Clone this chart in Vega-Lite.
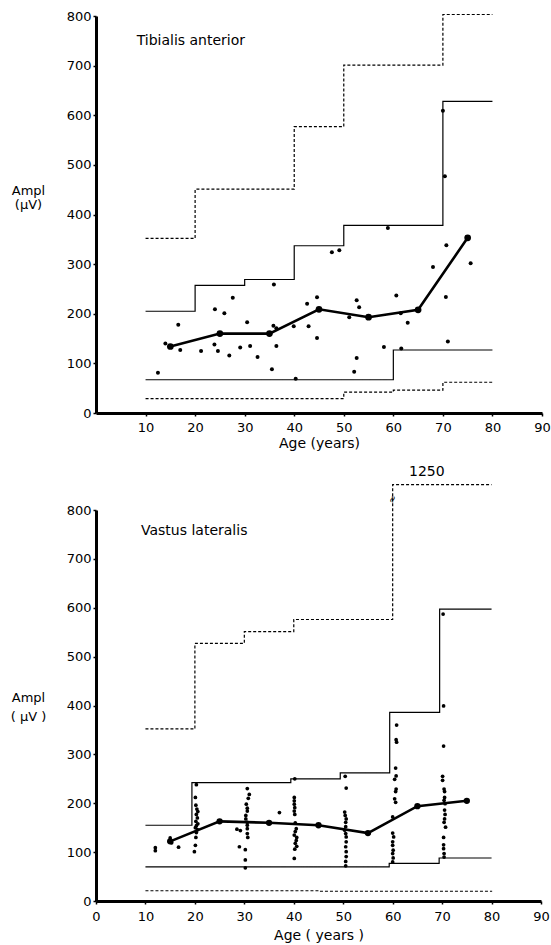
{
  "$schema": "https://vega.github.io/schema/vega-lite/v6.json",
  "padding": {"left": 10, "top": 10, "right": 2, "bottom": 2},
  "spacing": 15,
  "config": {
    "view": {"stroke": null},
    "font": "DejaVu Sans",
    "axis": {
      "grid": false,
      "domainColor": "black",
      "domainWidth": 3,
      "tickColor": "black",
      "tickSize": 3,
      "tickWidth": 1.5,
      "labelFont": "DejaVu Sans",
      "labelFontSize": 13,
      "labelColor": "black",
      "labelFlush": false,
      "labelOverlap": false,
      "titleFont": "DejaVu Sans",
      "titleFontSize": 14,
      "titleFontWeight": "normal",
      "titleColor": "black"
    },
    "point": {"filled": true, "color": "black", "opacity": 1},
    "line": {"color": "black"}
  },
  "datasets": {
    "ta_steps": [
      {"s": "uD", "d": "dashed", "x": 10, "y": 352}, {"s": "uD", "d": "dashed", "x": 20, "y": 451}, {"s": "uD", "d": "dashed", "x": 40, "y": 577}, {"s": "uD", "d": "dashed", "x": 50, "y": 701}, {"s": "uD", "d": "dashed", "x": 70, "y": 803}, {"s": "uD", "d": "dashed", "x": 80, "y": 803},
      {"s": "uS", "d": "solid", "x": 10, "y": 205}, {"s": "uS", "d": "solid", "x": 20, "y": 257}, {"s": "uS", "d": "solid", "x": 30, "y": 269}, {"s": "uS", "d": "solid", "x": 40, "y": 337}, {"s": "uS", "d": "solid", "x": 50, "y": 378}, {"s": "uS", "d": "solid", "x": 70, "y": 628}, {"s": "uS", "d": "solid", "x": 80, "y": 628},
      {"s": "lS", "d": "solid", "x": 10, "y": 67}, {"s": "lS", "d": "solid", "x": 60, "y": 127}, {"s": "lS", "d": "solid", "x": 80, "y": 127},
      {"s": "lD", "d": "dashed", "x": 10, "y": 29}, {"s": "lD", "d": "dashed", "x": 50, "y": 42}, {"s": "lD", "d": "dashed", "x": 60, "y": 46}, {"s": "lD", "d": "dashed", "x": 70, "y": 62}, {"s": "lD", "d": "dashed", "x": 80, "y": 62}
    ],
    "ta_mean": [
      {"x": 15, "y": 134}, {"x": 25, "y": 160}, {"x": 35, "y": 160}, {"x": 45, "y": 209}, {"x": 55, "y": 193}, {"x": 65, "y": 208}, {"x": 75, "y": 353}
    ],
    "ta_obs": [
      {"x": 12.5, "y": 81}, {"x": 14.0, "y": 140}, {"x": 16.6, "y": 178}, {"x": 17.0, "y": 127}, {"x": 21.2, "y": 125},
      {"x": 24.0, "y": 209}, {"x": 23.9, "y": 138}, {"x": 24.6, "y": 125}, {"x": 25.9, "y": 201}, {"x": 26.9, "y": 116},
      {"x": 27.6, "y": 232}, {"x": 29.1, "y": 132}, {"x": 30.5, "y": 183}, {"x": 31.1, "y": 135}, {"x": 32.6, "y": 113},
      {"x": 35.5, "y": 88}, {"x": 35.9, "y": 259}, {"x": 35.8, "y": 176}, {"x": 36.4, "y": 171}, {"x": 36.4, "y": 135},
      {"x": 39.9, "y": 175}, {"x": 40.3, "y": 69}, {"x": 42.6, "y": 220}, {"x": 42.9, "y": 175}, {"x": 44.6, "y": 151},
      {"x": 44.6, "y": 233}, {"x": 47.6, "y": 324}, {"x": 49.1, "y": 328}, {"x": 51.1, "y": 193}, {"x": 52.1, "y": 83},
      {"x": 52.6, "y": 227}, {"x": 52.6, "y": 111}, {"x": 53.1, "y": 213}, {"x": 58.1, "y": 133}, {"x": 58.9, "y": 373},
      {"x": 60.6, "y": 237}, {"x": 61.5, "y": 201}, {"x": 61.6, "y": 130}, {"x": 62.9, "y": 182}, {"x": 68.0, "y": 294},
      {"x": 70.0, "y": 609}, {"x": 70.4, "y": 477}, {"x": 70.6, "y": 234}, {"x": 70.7, "y": 338}, {"x": 71.0, "y": 144},
      {"x": 75.6, "y": 302}
    ],
    "ta_labels": [
      {"x": 8.2, "y": 750, "t": "Tibialis anterior"}
    ],
    "vl_steps": [
      {"s": "uD", "d": "dashed", "x": 10, "y": 352}, {"s": "uD", "d": "dashed", "x": 20, "y": 527}, {"s": "uD", "d": "dashed", "x": 30, "y": 551}, {"s": "uD", "d": "dashed", "x": 40, "y": 576}, {"s": "uD", "d": "dashed", "x": 60, "y": 852}, {"s": "uD", "d": "dashed", "x": 80, "y": 852},
      {"s": "uS", "d": "solid", "x": 10, "y": 155}, {"s": "uS", "d": "solid", "x": 19.4, "y": 242}, {"s": "uS", "d": "solid", "x": 39.4, "y": 250}, {"s": "uS", "d": "solid", "x": 49.4, "y": 262}, {"s": "uS", "d": "solid", "x": 59.4, "y": 386}, {"s": "uS", "d": "solid", "x": 69.5, "y": 597}, {"s": "uS", "d": "solid", "x": 80, "y": 597},
      {"s": "lS", "d": "solid", "x": 10, "y": 70}, {"s": "lS", "d": "solid", "x": 59.3, "y": 77}, {"s": "lS", "d": "solid", "x": 69.4, "y": 88}, {"s": "lS", "d": "solid", "x": 80, "y": 88},
      {"s": "lD", "d": "dashed", "x": 10, "y": 21}, {"s": "lD", "d": "dashed", "x": 45, "y": 20}, {"s": "lD", "d": "dashed", "x": 80, "y": 19}
    ],
    "vl_mean": [
      {"x": 15, "y": 122}, {"x": 25, "y": 163}, {"x": 35, "y": 160}, {"x": 45, "y": 155}, {"x": 55, "y": 139}, {"x": 65, "y": 194}, {"x": 75, "y": 205}
    ],
    "vl_obs": [
      {"x": 12, "y": 109}, {"x": 12, "y": 103}, {"x": 15, "y": 129}, {"x": 15.3, "y": 119}, {"x": 16.7, "y": 110},
      {"x": 20.3, "y": 238}, {"x": 20.1, "y": 212}, {"x": 20.2, "y": 196}, {"x": 20.4, "y": 188}, {"x": 20.6, "y": 183}, {"x": 20.3, "y": 177}, {"x": 20.5, "y": 170}, {"x": 20.2, "y": 163}, {"x": 20.6, "y": 158}, {"x": 20.3, "y": 154}, {"x": 20.1, "y": 150}, {"x": 20.5, "y": 146}, {"x": 20.3, "y": 140}, {"x": 20.2, "y": 130}, {"x": 20.1, "y": 114}, {"x": 19.9, "y": 101},
      {"x": 30.6, "y": 230}, {"x": 31.0, "y": 218}, {"x": 30.8, "y": 210}, {"x": 30.4, "y": 198}, {"x": 30.6, "y": 190}, {"x": 30.6, "y": 184}, {"x": 30.3, "y": 175}, {"x": 30.3, "y": 168}, {"x": 30.6, "y": 161}, {"x": 30.6, "y": 155}, {"x": 30.6, "y": 148}, {"x": 28.5, "y": 147}, {"x": 29.2, "y": 144}, {"x": 30.6, "y": 138}, {"x": 30.7, "y": 130}, {"x": 29.0, "y": 111}, {"x": 30.2, "y": 105}, {"x": 30.2, "y": 84}, {"x": 30.2, "y": 68},
      {"x": 37.1, "y": 181},
      {"x": 40.2, "y": 250}, {"x": 40.1, "y": 212}, {"x": 40.1, "y": 205}, {"x": 40.1, "y": 198}, {"x": 40.2, "y": 191}, {"x": 40.1, "y": 184}, {"x": 40.2, "y": 177}, {"x": 40.3, "y": 160}, {"x": 40.5, "y": 148}, {"x": 40.3, "y": 142}, {"x": 40.1, "y": 135}, {"x": 40.6, "y": 130}, {"x": 40.5, "y": 124}, {"x": 40.3, "y": 118}, {"x": 40.6, "y": 112}, {"x": 40.2, "y": 106}, {"x": 40.1, "y": 87},
      {"x": 50.4, "y": 255}, {"x": 50.6, "y": 231}, {"x": 50.3, "y": 182}, {"x": 50.4, "y": 175}, {"x": 50.6, "y": 168}, {"x": 50.5, "y": 161}, {"x": 50.5, "y": 152}, {"x": 50.3, "y": 145}, {"x": 50.5, "y": 138}, {"x": 50.6, "y": 131}, {"x": 50.6, "y": 121}, {"x": 50.5, "y": 111}, {"x": 50.6, "y": 101}, {"x": 50.6, "y": 91}, {"x": 50.5, "y": 81}, {"x": 50.5, "y": 72},
      {"x": 60.8, "y": 360}, {"x": 60.7, "y": 330}, {"x": 60.8, "y": 325}, {"x": 60.6, "y": 272}, {"x": 60.7, "y": 256}, {"x": 60.4, "y": 249}, {"x": 60.7, "y": 229}, {"x": 60.6, "y": 224}, {"x": 60.4, "y": 209}, {"x": 60.6, "y": 202}, {"x": 60.0, "y": 172}, {"x": 60.0, "y": 139}, {"x": 60.2, "y": 131}, {"x": 60.0, "y": 121}, {"x": 60.0, "y": 114}, {"x": 60.1, "y": 104}, {"x": 60.0, "y": 97}, {"x": 60.1, "y": 88}, {"x": 60.0, "y": 80},
      {"x": 70.2, "y": 587}, {"x": 70.3, "y": 399}, {"x": 70.3, "y": 317}, {"x": 70.1, "y": 255}, {"x": 70.1, "y": 247}, {"x": 70.4, "y": 229}, {"x": 70.5, "y": 224}, {"x": 70.5, "y": 212}, {"x": 70.4, "y": 206}, {"x": 70.6, "y": 199}, {"x": 70.5, "y": 186}, {"x": 70.6, "y": 177}, {"x": 70.5, "y": 168}, {"x": 70.4, "y": 161}, {"x": 70.7, "y": 151}, {"x": 70.3, "y": 130}, {"x": 70.3, "y": 115}, {"x": 70.3, "y": 107}, {"x": 70.4, "y": 97}, {"x": 70.4, "y": 90}
    ],
    "vl_labels": [
      {"x": 9.1, "y": 757, "t": "Vastus lateralis"},
      {"x": 63.3, "y": 877, "t": "1250"}
    ],
    "vl_break": [
      {"x": 60, "y": 822, "t": "≈"}
    ]
  },
  "vconcat": [
    {
      "width": 446,
      "height": 397,
      "layer": [
        {
          "data": {"name": "ta_steps"},
          "mark": {"type": "line", "interpolate": "step-after", "strokeWidth": 1.2},
          "encoding": {
            "x": {"field": "x", "type": "quantitative", "scale": {"domain": [0, 90], "nice": false},
                  "axis": {"values": [10, 20, 30, 40, 50, 60, 70, 80, 90], "title": "Age (years)", "labelPadding": 5, "titlePadding": 2}},
            "y": {"field": "y", "type": "quantitative", "scale": {"domain": [0, 800], "nice": false},
                  "axis": {"values": [0, 100, 200, 300, 400, 500, 600, 700, 800], "title": ["Ampl", "(μV)"], "titleAngle": 0, "titleAlign": "center", "titleBaseline": "middle", "titleX": -68, "titleY": 174, "titleLineHeight": 14, "titleFontSize": 13, "labelPadding": 2}},
            "detail": {"field": "s"},
            "strokeDash": {"field": "d", "type": "nominal", "scale": {"domain": ["solid", "dashed"], "range": [[1, 0], [3, 2]]}, "legend": null}
          }
        },
        {
          "data": {"name": "ta_mean"},
          "mark": {"type": "line", "strokeWidth": 2.6},
          "encoding": {"x": {"field": "x", "type": "quantitative"}, "y": {"field": "y", "type": "quantitative"}}
        },
        {
          "data": {"name": "ta_mean"},
          "mark": {"type": "point", "size": 45},
          "encoding": {"x": {"field": "x", "type": "quantitative"}, "y": {"field": "y", "type": "quantitative"}}
        },
        {
          "data": {"name": "ta_obs"},
          "mark": {"type": "point", "size": 16},
          "encoding": {"x": {"field": "x", "type": "quantitative"}, "y": {"field": "y", "type": "quantitative"}}
        },
        {
          "data": {"name": "ta_labels"},
          "mark": {"type": "text", "align": "left", "baseline": "middle", "fontSize": 14, "font": "DejaVu Sans", "color": "black"},
          "encoding": {"x": {"field": "x", "type": "quantitative"}, "y": {"field": "y", "type": "quantitative"}, "text": {"field": "t"}}
        }
      ]
    },
    {
      "width": 445,
      "height": 391,
      "layer": [
        {
          "data": {"name": "vl_steps"},
          "mark": {"type": "line", "interpolate": "step-after", "strokeWidth": 1.2},
          "encoding": {
            "x": {"field": "x", "type": "quantitative", "scale": {"domain": [0, 90], "nice": false},
                  "axis": {"values": [0, 10, 20, 30, 40, 50, 60, 70, 80, 90], "title": "Age ( years )", "labelPadding": 6, "titlePadding": 5}},
            "y": {"field": "y", "type": "quantitative", "scale": {"domain": [0, 800], "nice": false},
                  "axis": {"values": [0, 100, 200, 300, 400, 500, 600, 700, 800], "title": ["Ampl", "( μV )"], "titleAngle": 0, "titleAlign": "center", "titleBaseline": "middle", "titleX": -68, "titleY": 187, "titleLineHeight": 19, "titleFontSize": 13, "labelPadding": 2}},
            "detail": {"field": "s"},
            "strokeDash": {"field": "d", "type": "nominal", "scale": {"domain": ["solid", "dashed"], "range": [[1, 0], [3, 2]]}, "legend": null}
          }
        },
        {
          "data": {"name": "vl_mean"},
          "mark": {"type": "line", "strokeWidth": 2.6},
          "encoding": {"x": {"field": "x", "type": "quantitative"}, "y": {"field": "y", "type": "quantitative"}}
        },
        {
          "data": {"name": "vl_mean"},
          "mark": {"type": "point", "size": 40},
          "encoding": {"x": {"field": "x", "type": "quantitative"}, "y": {"field": "y", "type": "quantitative"}}
        },
        {
          "data": {"name": "vl_obs"},
          "mark": {"type": "point", "size": 14},
          "encoding": {"x": {"field": "x", "type": "quantitative"}, "y": {"field": "y", "type": "quantitative"}}
        },
        {
          "data": {"name": "vl_labels"},
          "mark": {"type": "text", "align": "left", "baseline": "middle", "fontSize": 14, "font": "DejaVu Sans", "color": "black"},
          "encoding": {"x": {"field": "x", "type": "quantitative"}, "y": {"field": "y", "type": "quantitative"}, "text": {"field": "t"}}
        },
        {
          "data": {"name": "vl_break"},
          "mark": {"type": "text", "align": "center", "baseline": "middle", "fontSize": 10, "angle": 290, "font": "DejaVu Sans", "color": "black"},
          "encoding": {"x": {"field": "x", "type": "quantitative"}, "y": {"field": "y", "type": "quantitative"}, "text": {"field": "t"}}
        }
      ]
    }
  ]
}
